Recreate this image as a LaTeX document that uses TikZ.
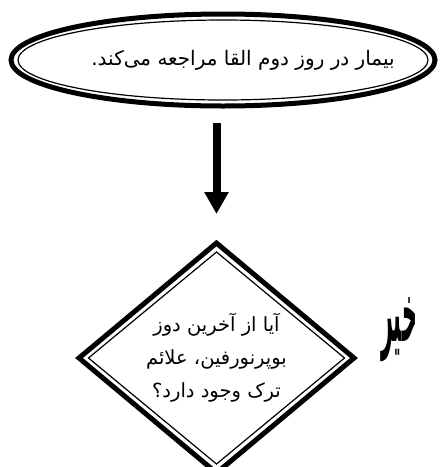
\documentclass[tikz,border=0pt]{standalone}
\usepackage{fontspec}
\usepackage{tikz}
\usetikzlibrary{arrows.meta, positioning, shapes.geometric, calc}
\TeXXeTstate=1
\newfontfamily\arabicfont[Script=Arabic]{DejaVu Sans}

\begin{document}
\begin{tikzpicture}[
  x=1pt, y=1pt,
  outerline/.style={draw, line width=5pt, inner sep=0pt, outer sep=0pt},
  innerline/.style={draw, line width=1.2pt, inner sep=0pt, outer sep=0pt},
  startbox/.style={outerline, ellipse, minimum width=424pt, minimum height=92pt,
                   font=\arabicfont\fontsize{20}{24}\selectfont},
  checkbox/.style={outerline, diamond, minimum width=275pt, minimum height=228pt,
                   font=\arabicfont\fontsize{19.5}{33}\selectfont, align=center},
  bigarrow/.style={line width=8pt, -{Triangle[width=23pt, length=22pt]}},
]
\useasboundingbox (0,0) rectangle (445,-467);

% Start: patient comes back on day two
\node[startbox] (start) at (223,-60)
  {\makebox[0pt]{\hspace{40pt}\raisebox{2pt}{\beginR بیمار در روز دوم القا مراجعه می‌کند.\endR}}};
\node[innerline, ellipse, minimum width=410pt, minimum height=80pt] (startin) at (start.center) {};

% Decision
\node[checkbox] (check) at (216.5,-358)
  {\beginR آیا از آخرین دوز\endR\\\beginR بوپرنورفین، علائم\endR\\\beginR ترک وجود دارد؟\endR};
\node[innerline, diamond, minimum width=256pt, minimum height=212pt] (checkin) at (check.center) {};

% No branch label
\node[font=\arabicfont\bfseries\fontsize{30}{32}\selectfont] (no) at (399,-330)
  {\resizebox{36pt}{44pt}{\beginR خیر\endR}};

% Arrow
\draw[bigarrow, shorten <=17pt, shorten >=29pt] (start.south -| check.north) -- (check.north);

\end{tikzpicture}
\end{document}
